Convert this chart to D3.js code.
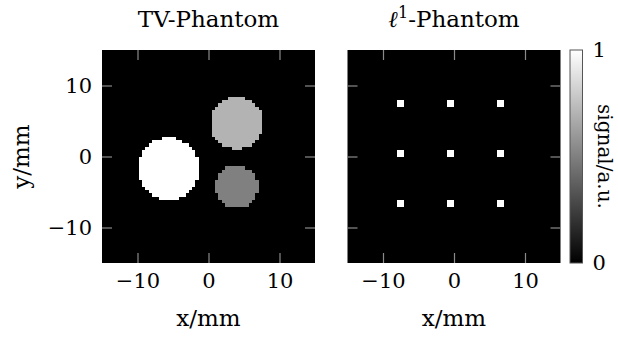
<!DOCTYPE html>
<html>
<head>
<meta charset="utf-8">
<script src="https://cdn.jsdelivr.net/npm/d3@7"></script>
<style>
  body { margin: 0; background: #fff; }
  text { font-family: "DejaVu Serif", serif; fill: #000; }
</style>
</head>
<body>
<svg id="chart" width="618" height="338"></svg>
<script>
// phantom definition (mm), 64x64 pixel grid over [-15, 15]
const gridSize = 64;
const fov = [-15, 15];

// TV phantom: piecewise constant discs
const discX = [-5.65, 3.95, 3.95];
const discY = [-1.7, 4.75, -4.25];
const discR = [4.35, 3.68, 2.95];
const discValue = [1, 0.7, 0.5];

// l1 phantom: 2x2 pixel spikes (grid indices, rows counted from top)
const spikeCols = [15, 30, 45];
const spikeRows = [15, 30, 45];
const spikeValue = 1;

const axisTicks = [-10, 0, 10];
const colorTicks = [0, 1];

const svg = d3.select("#chart");
const size = 213;
const marginTop = 50;
const panelLeft = [102, 347.5];
const tickLen = 10;
const h = (fov[1] - fov[0]) / gridSize;

const x = d3.scaleLinear().domain(fov).range([0, size]);
const y = d3.scaleLinear().domain(fov).range([size, 0]);
const color = d3.scaleLinear().domain([0, 1]).range(["#000", "#fff"]);

// build cell lists
const tvCells = [];
for (let j = 0; j < gridSize; j++) {
  for (let i = 0; i < gridSize; i++) {
    const xc = fov[0] + (i + 0.5) * h;
    const yc = fov[1] - (j + 0.5) * h;
    let v = 0;
    discX.forEach((cx, k) => {
      const dx = xc - cx, dy = yc - discY[k];
      if (dx * dx + dy * dy <= discR[k] * discR[k]) v = Math.max(v, discValue[k]);
    });
    if (v > 0) tvCells.push({ i, j, v });
  }
}

const l1Cells = [];
spikeRows.forEach((r) => {
  spikeCols.forEach((c) => {
    for (let dj = 0; dj < 2; dj++)
      for (let di = 0; di < 2; di++)
        l1Cells.push({ i: c + di, j: r + dj, v: spikeValue });
  });
});

function drawPanel(left, cells, showYLabels) {
  const g = svg.append("g").attr("transform", `translate(${left}, ${marginTop})`);

  g.append("rect")
    .attr("width", size)
    .attr("height", size)
    .attr("fill", "#000");

  g.selectAll(".cell")
    .data(cells)
    .enter()
    .append("rect")
    .attr("class", "cell")
    .attr("x", (d) => x(fov[0] + d.i * h))
    .attr("y", (d) => y(fov[1] - d.j * h))
    .attr("width", x(fov[0] + h) - x(fov[0]) + 0.3)
    .attr("height", y(fov[1] - h) - y(fov[1]) + 0.3)
    .attr("fill", (d) => color(d.v))
    .attr("shape-rendering", "crispEdges");

  // inward ticks on all sides
  const styleTicks = (sel) => {
    sel.select(".domain").remove();
    sel.selectAll(".tick line").attr("stroke", "#8a8a8a").attr("stroke-width", 1.2);
  };

  g.append("g")
    .attr("transform", `translate(0, ${size})`)
    .call(d3.axisBottom(x).tickValues(axisTicks).tickSizeInner(-tickLen).tickSizeOuter(0).tickPadding(10))
    .call(styleTicks)
    .selectAll("text")
    .style("font-size", "21px")
    .style("font-family", "DejaVu Serif");

  g.append("g")
    .call(d3.axisTop(x).tickValues(axisTicks).tickSizeInner(-tickLen).tickSizeOuter(0).tickFormat(""))
    .call(styleTicks);

  const yAxis = g.append("g")
    .call(d3.axisLeft(y).tickValues(axisTicks).tickSizeInner(-tickLen).tickSizeOuter(0).tickPadding(10)
      .tickFormat(showYLabels ? null : ""))
    .call(styleTicks);
  yAxis.selectAll("text")
    .style("font-size", "21px")
    .style("font-family", "DejaVu Serif");

  g.append("g")
    .attr("transform", `translate(${size}, 0)`)
    .call(d3.axisRight(y).tickValues(axisTicks).tickSizeInner(-tickLen).tickSizeOuter(0).tickFormat(""))
    .call(styleTicks);

  // x label
  g.append("text")
    .attr("x", size / 2)
    .attr("y", size + 63)
    .attr("text-anchor", "middle")
    .style("font-size", "23px")
    .text("x/mm");

  return g;
}

const g1 = drawPanel(panelLeft[0], tvCells, true);
const g2 = drawPanel(panelLeft[1], l1Cells, false);

// titles
g1.append("text")
  .attr("x", size / 2)
  .attr("y", -23)
  .attr("text-anchor", "middle")
  .style("font-size", "23px")
  .text("TV-Phantom");

const t2 = g2.append("text")
  .attr("x", size / 2)
  .attr("y", -23)
  .attr("text-anchor", "middle")
  .style("font-size", "23px");
t2.append("tspan").style("font-style", "italic").text("ℓ");
t2.append("tspan").attr("dy", -9).style("font-size", "16px").text("1");
t2.append("tspan").attr("dy", 9).text("-Phantom");

// y label
svg.append("text")
  .attr("transform", `translate(29, ${marginTop + size / 2}) rotate(-90)`)
  .attr("text-anchor", "middle")
  .style("font-size", "23px")
  .text("y/mm");

// colorbar
const cbLeft = 570;
const cbWidth = 12.5;
const cy = d3.scaleLinear().domain([0, 1]).range([size, 0]);

const grad = svg.append("defs")
  .append("linearGradient")
  .attr("id", "cbgrad")
  .attr("x1", 0).attr("y1", 1).attr("x2", 0).attr("y2", 0);
grad.append("stop").attr("offset", "0%").attr("stop-color", color(0));
grad.append("stop").attr("offset", "100%").attr("stop-color", color(1));

const cb = svg.append("g").attr("transform", `translate(${cbLeft}, ${marginTop})`);
cb.append("rect")
  .attr("width", cbWidth)
  .attr("height", size)
  .attr("fill", "url(#cbgrad)")
  .attr("stroke", "#555")
  .attr("stroke-width", 1);

cb.append("g")
  .attr("transform", `translate(${cbWidth}, 0)`)
  .call(d3.axisRight(cy).tickValues(colorTicks).tickSize(0).tickPadding(10).tickFormat(d3.format("d")))
  .call((sel) => sel.select(".domain").remove())
  .selectAll("text")
  .style("font-size", "21px")
  .style("font-family", "DejaVu Serif");

cb.append("text")
  .attr("transform", `translate(${cbWidth + 15}, ${size / 2}) rotate(90)`)
  .attr("text-anchor", "middle")
  .style("font-size", "20px")
  .text("signal/a.u.");
</script>
</body>
</html>
